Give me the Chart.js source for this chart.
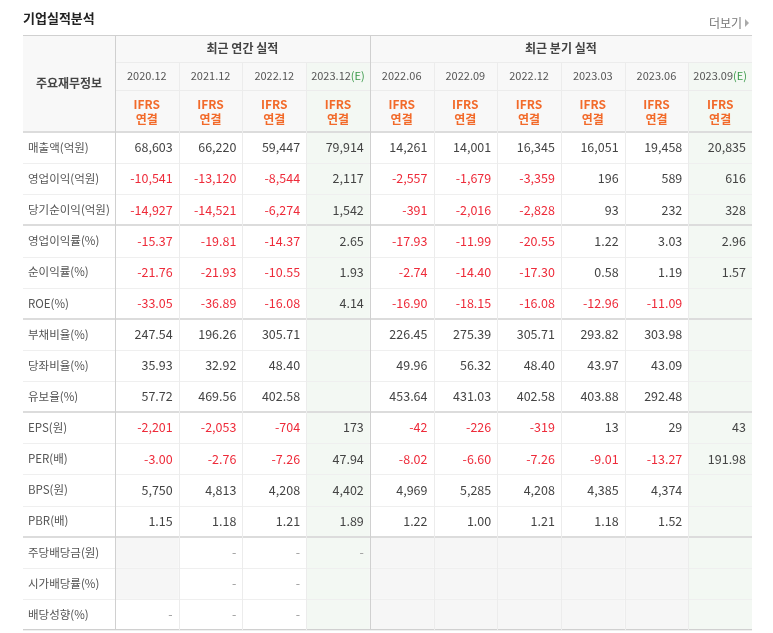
<!DOCTYPE html>
<html><head><meta charset="utf-8">
<script src="https://cdn.jsdelivr.net/npm/chart.js@4/dist/chart.umd.min.js"></script>
<style>html,body{margin:0;padding:0;background:#fff}#wrap{width:773px;height:633px}</style>
</head><body><div id="wrap"><canvas id="c"></canvas></div>
<script>
const columns = ['2020.12','2021.12','2022.12','2023.12','2022.06','2022.09','2022.12','2023.03','2023.06','2023.09'];
const estimateCols = [3, 9];
const groupLabels = ['최근 연간 실적', '최근 분기 실적'];
const rowLabels = ['매출액(억원)','영업이익(억원)','당기순이익(억원)','영업이익률(%)','순이익률(%)','ROE(%)','부채비율(%)','당좌비율(%)','유보율(%)','EPS(원)','PER(배)','BPS(원)','PBR(배)','주당배당금(원)','시가배당률(%)','배당성향(%)'];
const rowDecimals = [0,0,0,2,2,2,2,2,2,0,2,0,2,0,2,2];
const sales      = [68603,66220,59447,79914,14261,14001,16345,16051,19458,20835];
const opIncome   = [-10541,-13120,-8544,2117,-2557,-1679,-3359,196,589,616];
const netIncome  = [-14927,-14521,-6274,1542,-391,-2016,-2828,93,232,328];
const opMargin   = [-15.37,-19.81,-14.37,2.65,-17.93,-11.99,-20.55,1.22,3.03,2.96];
const netMargin  = [-21.76,-21.93,-10.55,1.93,-2.74,-14.40,-17.30,0.58,1.19,1.57];
const roe        = [-33.05,-36.89,-16.08,4.14,-16.90,-18.15,-16.08,-12.96,-11.09,null];
const debtRatio  = [247.54,196.26,305.71,null,226.45,275.39,305.71,293.82,303.98,null];
const quickRatio = [35.93,32.92,48.40,null,49.96,56.32,48.40,43.97,43.09,null];
const reserveRatio=[57.72,469.56,402.58,null,453.64,431.03,402.58,403.88,292.48,null];
const eps        = [-2201,-2053,-704,173,-42,-226,-319,13,29,43];
const per        = [-3.00,-2.76,-7.26,47.94,-8.02,-6.60,-7.26,-9.01,-13.27,191.98];
const bps        = [5750,4813,4208,4402,4969,5285,4208,4385,4374,null];
const pbr        = [1.15,1.18,1.21,1.89,1.22,1.00,1.21,1.18,1.52,null];
const dps        = [null,'-','-','-',null,null,null,null,null,null];
const divYield   = [null,'-','-',null,null,null,null,null,null,null];
const payout     = ['-','-','-',null,null,null,null,null,null,null];
const rows = [sales,opIncome,netIncome,opMargin,netMargin,roe,debtRatio,quickRatio,reserveRatio,eps,per,bps,pbr,dps,divYield,payout];
const thickAfter = [2,5,8,12];

const F = '"Noto Sans CJK KR","Noto Sans",sans-serif';
function fmt(v,d){ if(typeof v==='string') return v; return v.toLocaleString('en-US',{minimumFractionDigits:d,maximumFractionDigits:d}); }

const tablePlugin = {
  id:'table',
  beforeDraw(chart){
    const ctx=chart.ctx, xs=chart.scales.x, ys=chart.scales.y, ca=chart.chartArea;
    const colW=(ca.right-ca.left)/columns.length, rowH=(ca.bottom-ca.top)/rowLabels.length;
    const L=23, top=35, h1=62, h2=90;
    ctx.save();
    ctx.fillStyle='#f8f8f8'; ctx.fillRect(L,top,ca.right-L,ca.top-top);
    columns.forEach((c,i)=>{
      const x=xs.getPixelForValue(i)-colW/2;
      if(estimateCols.includes(i)){ctx.fillStyle='#f3f8f3'; ctx.fillRect(x,h1,colW,ca.bottom-h1);}
      rows.forEach((r,j)=>{
        if(r[i]===null && !estimateCols.includes(i)){
          const y=ys.getPixelForValue(j)-rowH/2; ctx.fillStyle='#f6f6f6'; ctx.fillRect(x,y,colW,rowH);
        }
      });
    });
    ctx.fillStyle='#ececec';
    ctx.fillRect(ca.left,h1,ca.right-ca.left,1); ctx.fillRect(ca.left,h2,ca.right-ca.left,1);
    rowLabels.forEach((r,j)=>{
      const y=Math.round(ys.getPixelForValue(j)+rowH/2);
      if(thickAfter.includes(j)){ctx.fillStyle='#dcdcdc'; ctx.fillRect(L,y-1,ca.right-L,2);}
      else {ctx.fillStyle='#efefef'; ctx.fillRect(L,y,ca.right-L,1);}
    });
    ctx.fillStyle='#d0d0d0'; ctx.fillRect(L,top,ca.right-L,1);
    ctx.fillStyle='#dcdcdc'; ctx.fillRect(L,ca.top-1,ca.right-L,2);
    ctx.fillStyle='#d0d0d0'; ctx.fillRect(L,ca.bottom-1,ca.right-L,1);
    columns.forEach((c,i)=>{
      const x=Math.round(xs.getPixelForValue(i)-colW/2);
      if(i===0||i===4){ctx.fillStyle='#d0d0d0'; ctx.fillRect(x,top,1,ca.bottom-top);}
      else {ctx.fillStyle='#ececec'; ctx.fillRect(x,h1,1,ca.bottom-h1);}
    });
    ctx.fillStyle='#222'; ctx.font='bold 13px '+F; ctx.textBaseline='middle'; ctx.textAlign='left';
    ctx.fillText('기업실적분석',L,18);
    ctx.fillStyle='#777'; ctx.font='12px '+F; ctx.textAlign='right'; ctx.fillText('더보기',742,23);
    ctx.fillStyle='#aaa'; ctx.beginPath(); ctx.moveTo(745,19); ctx.lineTo(749,23); ctx.lineTo(745,27); ctx.fill();
    ctx.textAlign='center'; ctx.fillStyle='#444'; ctx.font='bold 12px '+F;
    ctx.fillText('주요재무정보',(L+ca.left)/2,(top+ca.top)/2);
    const g0=(xs.getPixelForValue(0)+xs.getPixelForValue(3))/2, g1=(xs.getPixelForValue(4)+xs.getPixelForValue(9))/2;
    ctx.fillText(groupLabels[0],g0,48); ctx.fillText(groupLabels[1],g1,48);
    columns.forEach((c,i)=>{
      const cx=xs.getPixelForValue(i);
      ctx.font='11px '+F; ctx.fillStyle='#555';
      if(estimateCols.includes(i)){
        const w1=ctx.measureText(c).width, w2=ctx.measureText('(E)').width;
        const sx=cx-(w1+w2)/2; ctx.textAlign='left'; ctx.fillText(c,sx,76); ctx.fillStyle='#3a9a4a'; ctx.fillText('(E)',sx+w1,76); ctx.textAlign='center';
      } else ctx.fillText(c,cx,76);
      ctx.fillStyle='#f26a2a'; ctx.font='bold 12px '+F;
      ctx.fillText('IFRS',cx,104); ctx.fillText('연결',cx,119);
    });
    rowLabels.forEach((lab,j)=>{
      const cy=ys.getPixelForValue(j);
      ctx.textAlign='left'; ctx.fillStyle='#555'; ctx.font='11.5px '+F; ctx.fillText(lab,28,cy);
      ctx.textAlign='right'; ctx.font='12.5px '+F;
      rows[j].forEach((v,i)=>{
        if(v===null) return;
        const x=xs.getPixelForValue(i)+colW/2-6;
        ctx.fillStyle=(typeof v==='number'&&v<0)?'#ee2b3a':(typeof v==='string'?'#999':'#444');
        ctx.fillText(fmt(v,rowDecimals[j]),x,cy);
      });
    });
    ctx.restore();
  }
};

new Chart(document.getElementById('c'),{
  type:'bar',
  data:{labels:columns,datasets:[{data:[],backgroundColor:'transparent'}]},
  options:{
    responsive:true,maintainAspectRatio:false,animation:false,
    layout:{padding:{left:115,top:132,right:21,bottom:3}},
    plugins:{legend:{display:false},tooltip:{enabled:false}},
    scales:{
      x:{type:'category',labels:columns,offset:true,display:false},
      y:{type:'category',labels:rowLabels,offset:true,display:false}
    }
  },
  plugins:[tablePlugin]
});
</script></body></html>
